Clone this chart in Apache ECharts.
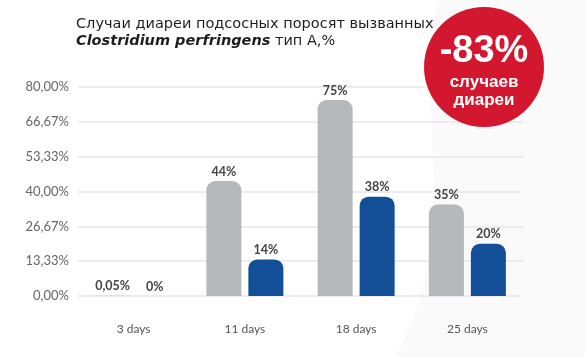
<!DOCTYPE html>
<html>
<head>
<meta charset="utf-8">
<script src="https://cdn.jsdelivr.net/npm/echarts@6/dist/echarts.min.js"></script>
<style>
html,body{margin:0;padding:0;background:#fff;}
#c{width:585px;height:357px;}
</style>
</head>
<body>
<div id="c"></div>
<script>
const categories = ['3 days', '11 days', '18 days', '25 days'];
const controlValues = [0.05, 44, 75, 35];
const treatedValues = [0, 14, 38, 20];
const yTicks = [0, 13.33, 26.67, 40, 53.33, 66.67, 80];
const badgeMain = '-83%';
const badgeSub = ['случаев', 'диареи'];

const chart = echarts.init(document.getElementById('c'), null, {renderer: 'canvas'});
function lbl(v) {
  const s = (v % 1 !== 0) ? v.toFixed(2).replace('.', ',') : String(v);
  return s + '%';
}
const labelCfg = {
  show: true, position: 'top', distance: 3,
  formatter: p => lbl(p.value),
  color: '#444', fontWeight: 'bold', fontSize: 12.5, fontFamily: 'Lato, sans-serif'
};
chart.setOption({
  animation: false,
  title: {
    text: 'Случаи диареи подсосных поросят вызванных\n{b|Clostridium perfringens} тип А,%',
    left: 71, top: 11,
    textStyle: {
      fontFamily: 'DejaVu Sans', fontSize: 14.5, fontWeight: 'normal', color: '#1e1e1e', lineHeight: 17,
      rich: { b: { fontFamily: 'DejaVu Sans', fontSize: 14.5, fontWeight: 'bold', fontStyle: 'italic', color: '#1e1e1e', lineHeight: 17 } }
    }
  },
  graphic: [
    { type: 'polygon', z: -10, silent: true,
      shape: { points: [[440,0],[585,0],[585,357],[395,357],[412,320],[425,280],[432,230],[434,180],[432,130],[429,90],[429,50],[433,20]] },
      style: { fill: '#fafafa' } },
    { type: 'circle', shape: { cx: 484, cy: 67, r: 60 }, style: { fill: '#d3172e' }, z: 100 },
    { type: 'text', x: 484, y: 52, z: 101, style: { text: badgeMain, fill: '#fff', font: 'bold 38px "Liberation Sans", Arial, sans-serif', textAlign: 'center', textVerticalAlign: 'middle' } },
    { type: 'text', x: 484, y: 82, z: 101, style: { text: badgeSub[0], fill: '#fff', font: 'bold 17px "Liberation Sans", Arial, sans-serif', textAlign: 'center', textVerticalAlign: 'middle' } },
    { type: 'text', x: 484, y: 100, z: 101, style: { text: badgeSub[1], fill: '#fff', font: 'bold 17px "Liberation Sans", Arial, sans-serif', textAlign: 'center', textVerticalAlign: 'middle' } }
  ],
  grid: { left: 78, right: 62, top: 87, bottom: 61, containLabel: false },
  xAxis: {
    type: 'category', data: categories,
    axisLine: { show: false }, axisTick: { show: false },
    axisLabel: { margin: 27, color: '#555', fontSize: 12, fontFamily: 'Lato, sans-serif' }
  },
  yAxis: {
    type: 'value', min: 0, max: 80, interval: 80 / 6,
    axisLine: { show: false }, axisTick: { show: false },
    axisLabel: { margin: 9, color: '#666', fontSize: 13, fontFamily: 'Lato, sans-serif',
      formatter: v => v.toFixed(2).replace('.', ',') + '%' },
    splitLine: { lineStyle: { color: '#e6e6e6', width: 1.5 } }
  },
  series: [
    { type: 'bar', data: controlValues, barWidth: 35, barGap: '20%',
      itemStyle: { color: '#b6b9b9', borderRadius: [9, 9, 0, 0] }, label: labelCfg },
    { type: 'bar', data: treatedValues, barWidth: 35,
      itemStyle: { color: '#134f97', borderRadius: [9, 9, 0, 0] }, label: labelCfg }
  ]
});
</script>
</body>
</html>
